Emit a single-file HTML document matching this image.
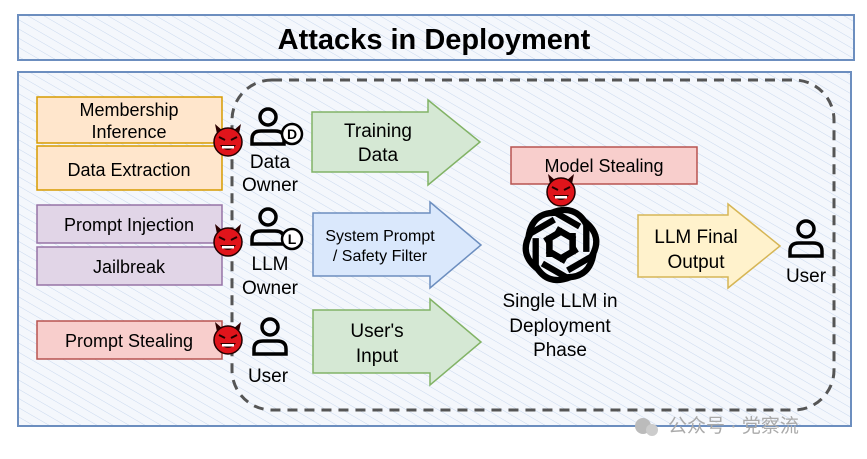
<!DOCTYPE html>
<html><head><meta charset="utf-8"><style>
html,body{margin:0;padding:0;background:#fff;}
svg{display:block;font-family:"Liberation Sans","Noto Sans CJK SC",sans-serif;}
</style></head><body>
<svg width="867" height="459" viewBox="0 0 867 459" xmlns="http://www.w3.org/2000/svg">
<defs>
<pattern id="h" width="8" height="8" patternUnits="userSpaceOnUse" patternTransform="rotate(-60)">
<rect width="8" height="8" fill="#f4f7fc"/><line x1="0" y1="0" x2="0" y2="8" stroke="#c9d8ee" stroke-width="1"/>
</pattern>
<g id="dev">
<path d="M-11,-8 L-13,-18 L-5,-11 Z M11,-8 L13,-18 L5,-11 Z" fill="#2a0000"/>
<circle r="14" fill="#e0141b" stroke="#200" stroke-width="1.5"/>
<path d="M-9,-5 L-3,-2 M9,-5 L3,-2" stroke="#200" stroke-width="2"/>
<path d="M-8,3 Q0,13 8,3 Z" fill="#300"/>
<rect x="-6" y="4" width="12" height="2.5" fill="#fff"/>
</g>
<g id="usr" fill="none" stroke="#000" stroke-width="3.5">
<circle cx="0" cy="-11" r="8"/>
<path d="M-16,16 L-16,11 Q-16,3 -7,3 L7,3 Q16,3 16,11 L16,16 Z"/>
</g>
</defs>
<rect x="18" y="15" width="836" height="45" fill="url(#h)" stroke="#6c8ebf" stroke-width="2"/>
<text x="434" y="49" text-anchor="middle" font-size="29" font-weight="bold">Attacks in Deployment</text>
<rect x="18" y="72" width="833" height="354" fill="url(#h)" stroke="#6c8ebf" stroke-width="2"/>
<rect x="232" y="80" width="602" height="330" rx="40" fill="none" stroke="#555" stroke-width="3" stroke-dasharray="10,7"/>
<g font-size="18" text-anchor="middle">
<rect x="37" y="97" width="185" height="46" fill="#ffe6cc" stroke="#d79b00" stroke-width="1.5"/>
<text x="129" y="116">Membership</text><text x="129" y="138">Inference</text>
<rect x="37" y="146" width="185" height="44" fill="#ffe6cc" stroke="#d79b00" stroke-width="1.5"/>
<text x="129" y="176">Data Extraction</text>
<rect x="37" y="205" width="185" height="38" fill="#e1d5e7" stroke="#9673a6" stroke-width="1.5"/>
<text x="129" y="231">Prompt Injection</text>
<rect x="37" y="247" width="185" height="38" fill="#e1d5e7" stroke="#9673a6" stroke-width="1.5"/>
<text x="129" y="273">Jailbreak</text>
<rect x="37" y="321" width="185" height="38" fill="#f8cecc" stroke="#b85450" stroke-width="1.5"/>
<text x="129" y="347">Prompt Stealing</text>
<rect x="511" y="147" width="186" height="37" fill="#f8cecc" stroke="#b85450" stroke-width="1.5"/>
<text x="604" y="172">Model Stealing</text>
</g>
<use href="#dev" x="228" y="142"/><use href="#dev" x="228" y="242"/><use href="#dev" x="228" y="340"/><use href="#dev" x="561" y="192"/>
<use href="#usr" x="268" y="128"/><use href="#usr" x="268" y="228"/><use href="#usr" x="270" y="338"/><use href="#usr" x="806" y="240"/>
<circle cx="292" cy="134" r="10" fill="#fff" stroke="#000" stroke-width="2.5"/><text x="292" y="139" font-size="14" font-weight="bold" text-anchor="middle">D</text>
<circle cx="292" cy="239" r="10" fill="#fff" stroke="#000" stroke-width="2.5"/><text x="292" y="244" font-size="14" font-weight="bold" text-anchor="middle">L</text>
<g font-size="19" text-anchor="middle">
<text x="270" y="168">Data</text><text x="270" y="191">Owner</text>
<text x="270" y="270">LLM</text><text x="270" y="294">Owner</text>
<text x="268" y="382">User</text>
<text x="806" y="282">User</text>
</g>
<path d="M312,112 L428,112 L428,100 L480,142 L428,185 L428,172 L312,172 Z" fill="#d5e8d4" stroke="#82b366" stroke-width="1.5"/>
<path d="M313,213 L430,213 L430,202 L481,245 L430,288 L430,276 L313,276 Z" fill="#dae8fc" stroke="#6c8ebf" stroke-width="1.5"/>
<path d="M313,310 L430,310 L430,299 L481,342 L430,385 L430,373 L313,373 Z" fill="#d5e8d4" stroke="#82b366" stroke-width="1.5"/>
<path d="M638,215 L728,215 L728,204 L780,246 L728,288 L728,277 L638,277 Z" fill="#fff2cc" stroke="#d6b656" stroke-width="1.5"/>
<g font-size="19" text-anchor="middle">
<text x="378" y="137">Training</text><text x="378" y="161">Data</text>
<text x="377" y="337">User's</text><text x="377" y="362">Input</text>
<text x="696" y="243">LLM Final</text><text x="696" y="268">Output</text>
<text x="560" y="307">Single LLM in</text><text x="560" y="332">Deployment</text><text x="560" y="356">Phase</text>
</g>
<g font-size="16" text-anchor="middle">
<text x="380" y="241">System Prompt</text><text x="380" y="261">/ Safety Filter</text>
</g>
<g fill="none" stroke="#000" stroke-width="5.5" transform="translate(561,245) scale(1.15)">
<g id="pet"><path d="M-8,-28 Q12,-36 22,-18 L22,6"/><path d="M-4,-14 L10,-6 L10,8"/></g>
<use href="#pet" transform="rotate(60)"/><use href="#pet" transform="rotate(120)"/><use href="#pet" transform="rotate(180)"/><use href="#pet" transform="rotate(240)"/><use href="#pet" transform="rotate(300)"/>
</g>
<text x="668" y="432" font-size="19" fill="#aaa">公众号 · 党察流</text>
<circle cx="643" cy="426" r="8" fill="#bbb"/><circle cx="652" cy="430" r="6" fill="#ccc"/>
</svg>
</body></html>
